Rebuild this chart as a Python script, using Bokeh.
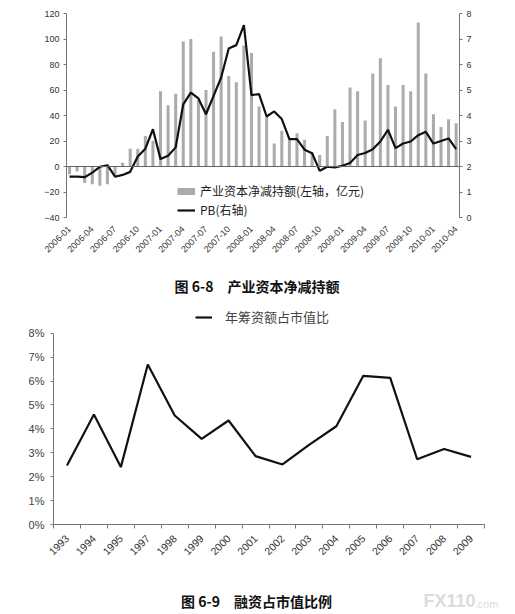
from math import pi
from bokeh.plotting import figure
from bokeh.models import (Range1d, LinearAxis, FixedTicker, Span, Legend, LegendItem,
                          Label, PrintfTickFormatter, ColumnDataSource)
from bokeh.embed import file_html
from bokeh.resources import INLINE

# ---------------- data: figure 6-8 (monthly, 2006-01 .. 2010-04) ----------------
tick_labels = ["2006-01", "2006-04", "2006-07", "2006-10",
               "2007-01", "2007-04", "2007-07", "2007-10",
               "2008-01", "2008-04", "2008-07", "2008-10",
               "2009-01", "2009-04", "2009-07", "2009-10",
               "2010-01", "2010-04"]

net_reduction = [-6, -4, -13, -14, -15, -14, -7, 3, 14, 14, 24, 20,
                 59, 48, 57, 98, 100, 52, 60, 90, 102, 71, 66, 95,
                 89, 47, 39, 18, 28, 22, 26, 21, 11, 9, 24, 45,
                 35, 62, 59, 36, 73, 85, 64, 47, 64, 59, 113, 73,
                 41, 31, 37, 34]

pb = [1.60, 1.60, 1.58, 1.76, 1.99, 2.05, 1.60, 1.67, 1.79, 2.39, 2.70, 3.46,
      2.29, 2.42, 2.75, 4.44, 4.90, 4.67, 4.05, 4.77, 5.49, 6.63, 6.76, 7.54,
      4.80, 4.84, 3.96, 4.16, 3.86, 3.07, 3.07, 2.66, 2.52, 1.83, 1.99, 1.96,
      2.03, 2.14, 2.45, 2.53, 2.68, 2.98, 3.44, 2.72, 2.90, 2.98, 3.23, 3.36,
      2.90, 3.00, 3.10, 2.68]

# ---------------- data: figure 6-9 (yearly) ----------------
years = ["1993", "1994", "1995", "1997", "1998", "1999", "2000", "2001",
         "2002", "2003", "2004", "2005", "2006", "2007", "2008", "2009"]
ratio_pct = [2.47, 4.60, 2.40, 6.69, 4.56, 3.58, 4.35, 2.86,
             2.51, 3.34, 4.11, 6.22, 6.13, 2.73, 3.16, 2.83]

caption1 = "图 6-8\u3000产业资本净减持额"
caption2 = "图 6-9\u3000融资占市值比例"

BAR = "#ababab"
AX = "#777777"
TXT = "#333333"
LAT = "Liberation Sans"
CJK = "Noto Sans CJK SC"
W = 507


def style_axis(ax, size="9px", color=TXT, standoff=4):
    ax.major_label_text_font = LAT
    ax.major_label_text_font_size = size
    ax.major_label_text_color = color
    ax.major_label_standoff = standoff


def caption_fig(h):
    c = figure(width=W, height=h, min_border=0,
               x_range=Range1d(0, W), y_range=Range1d(0, h),
               x_axis_type=None, y_axis_type=None,
               output_backend="svg", toolbar_location=None, tools="")
    c.outline_line_color = None
    return c


# ================= figure 6-8 =================
idx = list(range(len(net_reduction)))
src1 = ColumnDataSource(dict(x=idx, bar=net_reduction, pb=pb))

p1 = figure(width=W, height=270, frame_width=393, frame_height=204,
            min_border_left=66, min_border_right=W - 66 - 393, min_border_top=13, min_border_bottom=53,
            x_range=Range1d(-0.4, 51.44), y_range=Range1d(-40, 120),
            output_backend="svg", toolbar_location=None, tools="")
p1.extra_y_ranges = {"pb": Range1d(0, 8)}
p1.outline_line_color = None
p1.xgrid.grid_line_color = None
p1.ygrid.grid_line_color = None

bars = p1.vbar(x="x", top="bar", width=0.4, source=src1, fill_color=BAR, line_color=None)
proxy = p1.line(x="x", y="bar", source=src1, line_color=BAR, line_width=7, visible=False)
pb_line = p1.line(x="x", y="pb", source=src1, y_range_name="pb",
                  line_color="#111111", line_width=2.2)

p1.add_layout(Span(location=0, dimension="width", line_color="#666666", line_width=1))

xa = p1.xaxis[0]
xa.ticker = FixedTicker(ticks=list(range(0, len(net_reduction), 3)))
xa.major_label_overrides = {i * 3: lab for i, lab in enumerate(tick_labels)}
xa.axis_line_color = None
xa.major_tick_line_color = None
xa.minor_tick_line_color = None
xa.major_label_orientation = pi / 4
style_axis(xa)

ya = p1.yaxis[0]
ya.ticker = FixedTicker(ticks=list(range(-40, 121, 20)))
ya.axis_line_color = AX
ya.major_tick_line_color = AX
ya.major_tick_out = 3
ya.major_tick_in = 0
ya.minor_tick_line_color = None
style_axis(ya)

ra = LinearAxis(y_range_name="pb", ticker=FixedTicker(ticks=list(range(0, 9))))
ra.axis_line_color = AX
ra.major_tick_line_color = AX
ra.major_tick_out = 3
ra.major_tick_in = 0
ra.minor_tick_line_color = None
style_axis(ra)
p1.add_layout(ra, "right")

leg1 = Legend(items=[LegendItem(label="产业资本净减持额(左轴，亿元)", renderers=[proxy]),
                     LegendItem(label="PB(右轴)", renderers=[pb_line])],
              location=(111, -1), padding=0, spacing=2, margin=0,
              glyph_width=18, glyph_height=16, label_height=16, label_standoff=5,
              border_line_color=None, background_fill_alpha=0,
              label_text_font=CJK, label_text_font_size="12px", label_text_color="#222222")
p1.add_layout(leg1)

cap1 = caption_fig(30)
cap1.add_layout(Label(x=256.5, y=15, x_units="screen", y_units="screen",
                      text=caption1, text_align="center", text_baseline="middle",
                      text_font=CJK, text_font_size="14px", text_font_style="bold",
                      text_color="#111111"))

# ================= figure 6-9 =================
src2 = ColumnDataSource(dict(x=list(range(len(years))), r=ratio_pct))

p2 = figure(width=W, height=276, frame_width=431, frame_height=222,
            min_border_left=53, min_border_right=W - 53 - 431, min_border_top=2, min_border_bottom=52,
            x_range=Range1d(-0.5, len(years) - 0.5), y_range=Range1d(0, 9.285),
            output_backend="svg", toolbar_location=None, tools="")
p2.outline_line_color = None
p2.xgrid.grid_line_color = None
p2.ygrid.grid_line_color = None

ratio_line = p2.line(x="x", y="r", source=src2, line_color="#111111", line_width=2.2)

xb = p2.xaxis[0]
xb.ticker = FixedTicker(ticks=list(range(len(years))),
                        minor_ticks=[i - 0.5 for i in range(len(years) + 1)])
xb.major_label_overrides = {i: y for i, y in enumerate(years)}
xb.axis_line_color = AX
xb.major_tick_line_color = None
xb.minor_tick_line_color = AX
xb.minor_tick_out = 4
xb.minor_tick_in = 0
xb.major_label_orientation = pi / 4
style_axis(xb, size="10.5px", standoff=6)

yb = p2.yaxis[0]
yb.ticker = FixedTicker(ticks=list(range(0, 9)))
yb.formatter = PrintfTickFormatter(format="%d%%")
yb.bounds = (0, 8)
yb.axis_line_color = AX
yb.major_tick_line_color = AX
yb.major_tick_out = 3
yb.major_tick_in = 0
yb.minor_tick_line_color = None
style_axis(yb, size="11px", color="#444444", standoff=6)

leg2 = Legend(items=[LegendItem(label="年筹资额占市值比", renderers=[ratio_line])],
              location=(142, 198), padding=0, margin=0, orientation="horizontal",
              glyph_width=17, glyph_height=16, label_height=16, label_standoff=13,
              border_line_color=None, background_fill_alpha=0,
              label_text_font=CJK, label_text_font_size="13px", label_text_color="#444444")
p2.add_layout(leg2)

cap2 = caption_fig(38)
cap2.add_layout(Label(x=256, y=14, x_units="screen", y_units="screen",
                      text=caption2, text_align="center", text_baseline="middle",
                      text_font=CJK, text_font_size="14px", text_font_style="bold",
                      text_color="#111111"))
cap2.add_layout(Label(x=423, y=14, x_units="screen", y_units="screen",
                      text="FX110", text_align="left", text_baseline="middle",
                      text_font=LAT, text_font_size="18px", text_font_style="bold",
                      text_color="#dcdcdc"))
cap2.add_layout(Label(x=474, y=11, x_units="screen", y_units="screen",
                      text=".com", text_align="left", text_baseline="middle",
                      text_font=LAT, text_font_size="11px", text_color="#dcdcdc"))

# separate roots, stacked by the page itself (no cross-plot frame alignment)
open("out.html", "w").write(file_html([p1, cap1, p2, cap2], INLINE))
